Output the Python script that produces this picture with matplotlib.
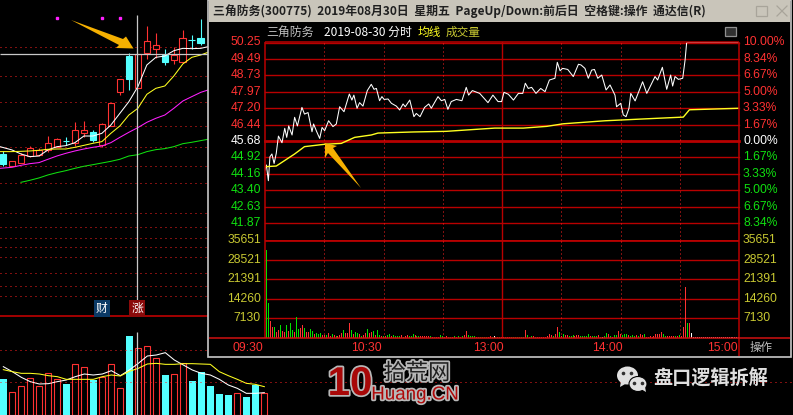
import matplotlib
matplotlib.use("Agg")
import matplotlib.pyplot as plt
import matplotlib.patheffects as pe
from matplotlib.patches import Rectangle, Polygon, Ellipse
import numpy as np

plt.rcParams['font.family'] = ['Noto Sans CJK SC', 'DejaVu Sans']

# daily candles: open, close, high, low
day_open = [32.02, 30.42, 30.74, 31.74, 31.88, 32.56, 33.02, 33.84, 33.48, 34.94, 34.99, 33.20,
            35.81, 40.47, 45.45, 41.11, 45.91, 46.46, 45.59, 44.95, 44.63, 47.65, 47.92]
day_close = [30.65, 31.01, 31.88, 32.79, 32.56, 33.57, 34.03, 33.84, 35.26, 35.26, 33.98, 36.08,
             38.96, 42.25, 42.34, 45.68, 47.55, 46.91, 44.63, 45.59, 47.87, 47.65, 47.19]
day_high = [32.47, 31.01, 32.11, 33.11, 32.79, 34.48, 34.16, 34.39, 36.40, 36.49, 35.31, 36.22,
            38.96, 42.25, 45.91, 45.68, 49.56, 48.65, 46.37, 46.64, 49.02, 48.33, 50.48]
day_low = [30.37, 30.42, 30.74, 31.65, 31.74, 32.34, 32.93, 33.25, 33.16, 34.39, 33.71, 33.02,
           35.81, 40.10, 40.79, 41.11, 44.99, 45.13, 44.22, 44.35, 44.54, 46.37, 46.96]

# moving averages, one value per day plus the right edge
ma_days = [-0.33] + list(range(1, 23)) + [22.8]
ma_white = [33.02, 32.57, 32.02, 31.65, 31.74, 32.57, 33.02, 33.16, 33.57, 34.48, 34.48, 34.85,
            35.99, 37.59, 39.19, 41.25, 44.22, 45.27, 45.45, 46.18, 46.50, 46.46, 46.50, 46.73]
ma_yellow = [32.34, 32.34, 32.38, 32.43, 32.52, 32.66, 32.70, 32.70, 32.93, 33.20, 33.48, 33.71,
             34.85, 35.86, 37.36, 38.28, 40.20, 41.02, 41.34, 42.71, 44.36, 45.27, 45.59, 45.96]
ma_magenta = [30.05, 30.19, 30.46, 30.69, 30.83, 31.29, 31.74, 32.11, 32.43, 32.70, 32.93, 33.11,
              33.57, 34.30, 34.99, 35.63, 36.36, 36.91, 37.36, 38.28, 39.28, 39.88, 40.47, 40.79]
ma_green = [np.nan, np.nan, 28.13, 28.41, 28.73, 29.14, 29.46, 29.73, 30.05, 30.33, 30.55, 30.78,
            31.01, 31.29, 31.74, 31.92, 32.34, 32.61, 32.75, 33.02, 33.43, 33.62, 33.85, 34.03]
day_dotted = [46.64, 42.66, 39.10, 35.80, 32.93, 30.30, 28.00, 23.93, 22.05, 20.55, 19.22, 17.94, 15.75, 13.97, 12.60]

# daily volume panel
day_vol = [10800, 6800, 8600, 11000, 8700, 12500, 10700, 9300, 15200, 14300, 10500, 11500, 15200, 8000, 23700,
           20000, 20600, 17000, 12000, 12300, 15500, 10200, 12800, 8700, 6300, 5900, 6600, 5400, 9000, 6600]
day_vol_dir = "crrrrrrcrrcrrrcrrrcrrcccccrccrc"[:30]
vol_ma_white = [14500, 13000, 11300, 10000, 9300, 9400, 10000, 10500, 11500, 12300, 12000, 12300, 13300, 11800, 13500,
                15500, 17700, 18000, 18700, 16500, 15000, 13500, 12500, 12000, 10700, 9000, 8000, 6500, 6500, 6700]
vol_ma_yellow = [13600, 13000, 12500, 12500, 12300, 11800, 11500, 10700, 10700, 10700, 10700, 11500, 12000, 11700, 13100,
                 14000, 15300, 15500, 15200, 15200, 15400, 15400, 15300, 15200, 13000, 11800, 10700, 9500, 9200, 8500]

# intraday price line: minute since 09:30 (lunch removed), price
min_x = [0, 0.7, 1.7, 2.5, 3.5, 4.6, 5.7, 6.8, 8.6, 10, 11, 12, 13.7, 15, 16.4, 18.7, 20, 21.8, 23.8, 24.6,
         26.2, 27.7, 28.9, 30.2, 32.2, 34.4, 36.1, 37.8, 40, 42.7, 44, 45, 46.6, 47.9, 49.6, 51.8, 53.8, 55.2, 56.4, 58,
         59.2, 60.3, 62.3, 64, 66.5, 68.2, 69.9, 71, 73.3, 75.4, 76.6, 78.5, 80.8, 82.9, 84.2, 87.6, 89.3, 91, 92.6, 94.3,
         96.9, 99.7, 101.9, 103.1, 105, 108.7, 112.9, 115.4, 118, 119.8, 121, 123.2, 125.8, 128.3, 130.5, 131.8, 133.3, 135, 137.2, 139.6,
         141.8, 144, 146.8, 148, 149.4, 150.7, 153.3, 156.1, 158.7, 160, 162, 163.7, 165.4, 166.8, 168.5, 170.5, 172.7, 174.7, 177.2, 178,
         180.1, 181.4, 182.8, 184.3, 185.2, 187.4, 191.2, 193.3, 197.5, 198.8, 201.2, 203.4, 205.4, 206.4, 207.6, 209.3, 211.5, 212.7, 213.5, 240]
min_price = [44.33, 44.57, 43.84, 44.95, 45.08, 44.64, 45.11, 45.91, 45.60, 46.27, 45.85, 46.38, 45.96, 46.78, 46.38, 47.24, 46.93, 47.00, 46.11, 46.47,
             46.11, 45.80, 46.31, 46.16, 46.62, 46.35, 46.47, 47.27, 47.04, 47.86, 47.58, 47.81, 47.20, 47.46, 47.30, 48.02, 48.31, 48.08, 48.12, 47.55,
             47.74, 47.61, 47.63, 47.43, 47.30, 47.12, 47.40, 47.27, 47.58, 46.81, 46.96, 46.81, 47.24, 47.40, 47.20, 47.74, 47.55, 47.61, 47.15, 47.51,
             47.61, 47.55, 48.17, 47.81, 48.02, 47.89, 47.46, 47.81, 47.51, 47.51, 47.94, 47.85, 47.58, 47.89, 47.89, 48.36, 48.12, 48.17, 47.89, 48.12,
             47.97, 48.51, 48.59, 49.33, 48.94, 49.05, 49.00, 48.67, 49.24, 49.21, 49.05, 48.59, 48.97, 49.00, 48.59, 48.74, 48.05, 48.28, 47.81, 47.27,
             47.43, 46.89, 46.81, 47.20, 47.89, 47.54, 48.43, 47.89, 48.67, 48.51, 49.10, 48.08, 48.74, 48.23, 48.67, 48.54, 48.59, 49.44, 50.25, 50.25]
avg_x = [0, 5.7, 15, 20, 30.2, 38.6, 45.4, 53.8, 57.2, 74.9, 91.8, 116.3, 130.8, 142.6, 151, 172.2, 197.5, 211.8, 214.9, 240]
avg_price = [44.49, 44.52, 45.08, 45.42, 45.53, 45.57, 45.85, 45.96, 46.05, 46.10, 46.13, 46.28, 46.28, 46.36, 46.48, 46.62, 46.73, 46.79, 47.13, 47.20]

# intraday volume per minute, g/r/w = down/up/flat
volume = [32100, 12800, 6200, 4000, 4000, 2100, 2900, 4800, 2400, 2100, 4800, 2600, 5500, 2900, 2100, 7800, 3300, 3800, 4800, 3600,
          2100, 2100, 3300, 2600, 1400, 1800, 1400, 1700, 1200, 1100, 1100, 1700, 700, 1400, 1100, 700, 700, 1000, 1800, 2900,
          1700, 1700, 5500, 3000, 1400, 2100, 1900, 1400, 700, 950, 1900, 3300, 1900, 2100, 2600, 1200, 3000, 1200, 700, 700,
          700, 1200, 1400, 600, 1200, 700, 700, 700, 1070, 480, 700, 1200, 700, 700, 1430, 950, 700, 700, 700, 700,
          700, 700, 700, 700, 360, 360, 480, 480, 1200, 700, 360, 700, 360, 360, 360, 700, 360, 700, 360, 700,
          1200, 2600, 1200, 700, 700, 700, 360, 360, 360, 360, 360, 360, 360, 700, 360, 700, 360, 360, 360, 360,
          360, 360, 360, 360, 360, 360, 480, 360, 360, 360, 360, 2900, 950, 480, 700, 700, 480, 360, 360, 360,
          480, 480, 700, 1430, 950, 700, 1430, 4000, 2100, 700, 1430, 1070, 1070, 700, 700, 950, 700, 950, 1070, 700,
          700, 700, 700, 1430, 700, 700, 700, 700, 1070, 360, 360, 700, 1800, 1430, 700, 480, 950, 950, 2400, 1430,
          1070, 1430, 1430, 1070, 700, 1070, 700, 1070, 700, 1430, 1070, 1430, 360, 480, 700, 480, 700, 1430, 1430, 1430,
          2100, 1430, 700, 700, 700, 700, 700, 700, 700, 1070, 700, 4000, 18650, 5500, 5500, 1800, 360, 360, 360, 360,
          360, 360, 360, 360, 360, 360, 360, 360, 360, 360, 360, 360, 360, 360, 360, 360, 360, 360, 360, 360, 360]
vol_dir = ("ggrrgrrgrrgrggrggrrg" "rrggrgggrrgrrgrgrrrg"
           "rrrgrggrgrrgrrgrggrg" "rggrggggrgrrgggrggrr"
           "rrrgrgrrggrrggrgrgrg" "rrggggrgggggrrgwgrgr"
           "rgrrggggggg" "rgrgrgrrr"
           "rrrrrgrrgrgrrgggrrrg" "ggggrgggrgwggrgrggrr"
           "gggrgggrgrrgrrrrrrrr" "rggrrrrgrgrrrgrw"
           "wwwwwwwwwwwwwwwwwwwwwwwww")

price_ticks = [50.25, 49.49, 48.73, 47.97, 47.20, 46.44, 45.68, 44.92, 44.16, 43.40, 42.63, 41.87]
pct_labels = ["10.00%", "8.34%", "6.67%", "5.00%", "3.33%", "1.67%", "0.00%", "1.67%", "3.33%", "5.00%", "6.67%", "8.34%"]
vol_ticks = [35651, 28521, 21391, 14260, 7130]
time_dotted = [30, 60, 90, 150, 180, 210]

RED = "#ff3232"
GRID = "#b80000"
GREEN = "#00e000"
CYAN = "#54ffff"
OLIVE = "#c8c832"
DOT = "#ff2020"
NUM = "Liberation Sans"

W, H = 793, 415
fig = plt.figure(figsize=(W / 100, H / 100), dpi=100, facecolor="black")

def px_axes(x0, y0, x1, y1, z):
    ax = fig.add_axes([x0 / W, 1 - y1 / H, (x1 - x0) / W, (y1 - y0) / H], zorder=z)
    ax.set_axis_off()
    return ax

# left: daily candles
ax_day = px_axes(0, 0, 208, 316, 1)
ax_day.set_xlim(-0.33, 22.8)
ax_day.set_ylim(9.8, 53.13)
ax_day.hlines(day_dotted, -0.33, 22.8, color=DOT, lw=0.72, linestyles=(0, (1, 4)))
for i in range(len(day_open)):
    up = day_close[i] >= day_open[i] and i not in (7, 21)
    c = RED if up else CYAN
    lo, hi = sorted([day_open[i], day_close[i]])
    ax_day.vlines(i, hi, day_high[i], color=c, lw=0.8, zorder=3)
    ax_day.vlines(i, day_low[i], lo, color=c, lw=0.8, zorder=3)
    if hi == lo:
        ax_day.hlines(hi, i - 0.37, i + 0.37, color=c, lw=0.8, zorder=3)
    else:
        ax_day.add_patch(Rectangle((i - 0.37, lo), 0.74, hi - lo, fc="black" if up else CYAN, ec=c, lw=0.8, zorder=3))
ax_day.plot(ma_days, ma_white, color="white", lw=0.75, zorder=4)
ax_day.plot(ma_days, ma_yellow, color="#ffff20", lw=0.75, zorder=4)
ax_day.plot(ma_days, ma_magenta, color="#ff20ff", lw=0.75, zorder=4)
ax_day.plot(ma_days, ma_green, color="#10e010", lw=0.75, zorder=4)

# left: daily volume, runs on below the window
ax_dv = px_axes(0, 332, 270, 415, 1)
ax_dv.set_xlim(-0.37, 29.63)
ax_dv.set_ylim(0, 24900)
for i, v in enumerate(day_vol):
    if day_vol_dir[i] == "c":
        ax_dv.bar(i, v, width=0.74, color=CYAN, zorder=2)
    else:
        ax_dv.bar(i, v, width=0.70, fc="black", ec=RED, lw=0.8, zorder=2)
ax_dv.plot(range(30), vol_ma_white, color="white", lw=0.75, zorder=3)
ax_dv.plot(range(30), vol_ma_yellow, color="#ffff20", lw=0.75, zorder=3)

# window frame and chrome in pixel coordinates
ax_bg = px_axes(0, 0, W, H, 2)
ax_bg.set_xlim(0, W)
ax_bg.set_ylim(H, 0)
ax_bg.patch.set_alpha(0)
ax_bg.plot([57, 102, 120], [18, 18, 18], ls="", marker="s", ms=1.6, color="#ff20ff")
ax_bg.hlines(350, 0, 208, color=DOT, lw=0.72, linestyles=(0, (1, 4)), zorder=0)
ax_bg.hlines(382, 0, W, color=DOT, lw=0.72, linestyles=(0, (1, 4)), zorder=0)
ax_bg.hlines(316, 0, 208, color="#b00000", lw=1.3)
ax_bg.hlines(54, 0, 208, color="#c8c8c8", lw=0.9)
ax_bg.vlines(137, 15, 316, color="#c8c8c8", lw=0.9)
ax_bg.vlines(137, 332, 415, color="#c8c8c8", lw=0.9)
ax_bg.text(101.5, 308.5, "财", color="white", fontsize=8.5, ha="center", va="center",
           bbox=dict(fc="#0b3a66", ec="none", pad=1.5))
ax_bg.text(137, 308.5, "涨", color="white", fontsize=8.5, ha="center", va="center",
           bbox=dict(fc="#8a0a0a", ec="none", pad=1.5))
ax_bg.add_patch(Rectangle((208, 0), 583, 356.5, fc="black", ec="#c8c8c8", lw=1.2, zorder=5))
ax_bg.add_patch(Rectangle((209, 0), 581, 22, fc="#c9c5ba", ec="none", zorder=6))
ax_bg.text(213, 11, "三角防务(300775)  2019年08月30日  星期五  PageUp/Down:前后日  空格键:操作  通达信(R)",
           fontsize=8.55, fontweight="bold", color="#202020", va="center", zorder=7)
ax_bg.add_patch(Rectangle((756, 6), 10.5, 10, fc="none", ec="#a8a49a", lw=0.9, zorder=7))
ax_bg.plot([777, 787], [6, 16], color="#a8a49a", lw=0.9, zorder=7)
ax_bg.plot([777, 787], [16, 6], color="#a8a49a", lw=0.9, zorder=7)
ax_bg.text(266, 32, "三角防务", color="#c0c0c0", fontsize=8.6, va="center", zorder=7)
ax_bg.text(324, 32, "2019-08-30 分时", color="white", fontsize=8.6, va="center", zorder=7)
ax_bg.text(418, 32, "均线", color="#ffff20", fontsize=8.4, va="center", zorder=7)
ax_bg.text(446, 32, "成交量", color=OLIVE, fontsize=8.4, va="center", zorder=7)
ax_bg.add_patch(Rectangle((724.5, 27), 11, 9, fc="#303030", ec="#909090", lw=0.9, zorder=7))

# intraday price panel
ax_p = px_axes(265, 42.5, 739, 240, 3)
ax_p.set_xlim(0, 240)
ax_p.set_ylim(41.09, 50.25)
for t in price_ticks:
    ax_p.axhline(t, color=GRID, lw=2 if t == 45.68 else 1.0, clip_on=False)
for t in time_dotted:
    ax_p.axvline(t, color=DOT, lw=0.72, ls=(0, (1, 3)))
ax_p.axvline(120, color=GRID, lw=1.0)
ax_p.plot(min_x, min_price, color="white", lw=0.75, zorder=4)
ax_p.plot(avg_x, avg_price, color="#ffff20", lw=1.0, zorder=4)
tr = ax_p.get_yaxis_transform()
for i, (t, lab) in enumerate(zip(price_ticks, pct_labels)):
    c = RED if i < 6 else ("white" if i == 6 else "#10e010")
    ax_p.text(-4 / 474, t, "%.2f" % t, color=c, family=NUM, fontsize=8.7, ha="right", va="center", transform=tr)
    ax_p.text(1 + 4 / 474, t, lab, color=c, family=NUM, fontsize=8.7, ha="left", va="center", transform=tr)

# intraday volume panel
ax_v = px_axes(265, 240, 739, 338, 3)
ax_v.set_xlim(0, 240)
ax_v.set_ylim(0, 35651)
for t in vol_ticks:
    ax_v.axhline(t, color=GRID, lw=2 if t == 35651 else 1.0)
for t in time_dotted:
    ax_v.axvline(t, color=DOT, lw=0.72, ls=(0, (1, 3)))
ax_v.axvline(120, color=GRID, lw=1.0)
dir_colors = {"g": GREEN, "r": RED, "w": "white"}
bar_x = np.arange(len(volume)) + 0.7
ax_v.vlines(bar_x, 0, volume, colors=[dir_colors[d] for d in vol_dir[:len(volume)]], lw=0.6, antialiased=False, zorder=4)
tr = ax_v.get_yaxis_transform()
for t in vol_ticks:
    ax_v.text(-4 / 474, t, str(t), color=OLIVE, family=NUM, fontsize=8.7, ha="right", va="center", transform=tr)
    ax_v.text(1 + 4 / 474, t, str(t), color=OLIVE, family=NUM, fontsize=8.7, ha="left", va="center", transform=tr)

# frame lines, time labels, arrows, watermark
ax_top = px_axes(0, 0, W, H, 4)
ax_top.set_xlim(0, W)
ax_top.set_ylim(H, 0)
ax_top.patch.set_alpha(0)
ax_top.vlines([265, 739], [42, 42], [338, 356], color=GRID, lw=1.1)
ax_top.hlines(42.5, 265, 739, color=GRID, lw=1.1)
ax_top.hlines(338, 209, 790, color="#d01010", lw=1.1)
ax_top.text(263, 347.5, "09:30", color=RED, family=NUM, fontsize=8.7, ha="right", va="center")
ax_top.text(366, 347.5, "10:30", color=RED, family=NUM, fontsize=8.7, ha="center", va="center")
ax_top.text(488, 347.5, "13:00", color=RED, family=NUM, fontsize=8.7, ha="center", va="center")
ax_top.text(607, 347.5, "14:00", color=RED, family=NUM, fontsize=8.7, ha="center", va="center")
ax_top.text(738, 347.5, "15:00", color=RED, family=NUM, fontsize=8.7, ha="right", va="center")
ax_top.text(761, 347.5, "操作", color="#c0c0c0", fontsize=8.3, ha="center", va="center")

orange = "#f5b000"
ax_top.add_patch(Polygon([(71, 20), (123, 39), (126, 36.5), (133.5, 48.5), (116, 48), (119, 45)], fc=orange, ec="none"))
ax_top.add_patch(Polygon([(325, 143), (337, 146), (333, 148), (361, 188), (328, 153), (325, 158)], fc=orange, ec="none"))

halo = [pe.withStroke(linewidth=2.5, foreground="#b8b8b8")]
ax_top.text(350, 384, "10", color="#a80808", fontsize=29, fontweight="bold", family="Liberation Sans",
            ha="center", va="center", path_effects=halo)
ax_top.text(417, 373, "拾荒网", color="#202020", fontsize=16, ha="center", va="center", path_effects=halo)
ax_top.text(415, 395, "Huang.CN", color="#b00808", family=NUM, fontsize=13.5, ha="center", va="center", path_effects=halo)

ax_top.add_patch(Ellipse((627.5, 375.5), 21, 18, fc="#e0e0e0", ec="none"))
ax_top.add_patch(Polygon([(621, 381), (620, 387), (627, 383)], fc="#e0e0e0", ec="none"))
ax_top.add_patch(Ellipse((638, 384), 18, 15, fc="#e0e0e0", ec="black", lw=0.8))
ax_top.add_patch(Polygon([(641, 389), (646, 392), (645, 387)], fc="#e0e0e0", ec="none"))
ax_top.plot([623, 631, 634, 642], [373, 373, 383, 383], ls="", marker="o", ms=1.6, color="#303030")
ax_top.text(653, 379, "盘口逻辑拆解", color="#e0e0e0", fontsize=13.8, fontweight="bold", va="center")

fig.savefig("out.png", dpi=100, facecolor="black")
